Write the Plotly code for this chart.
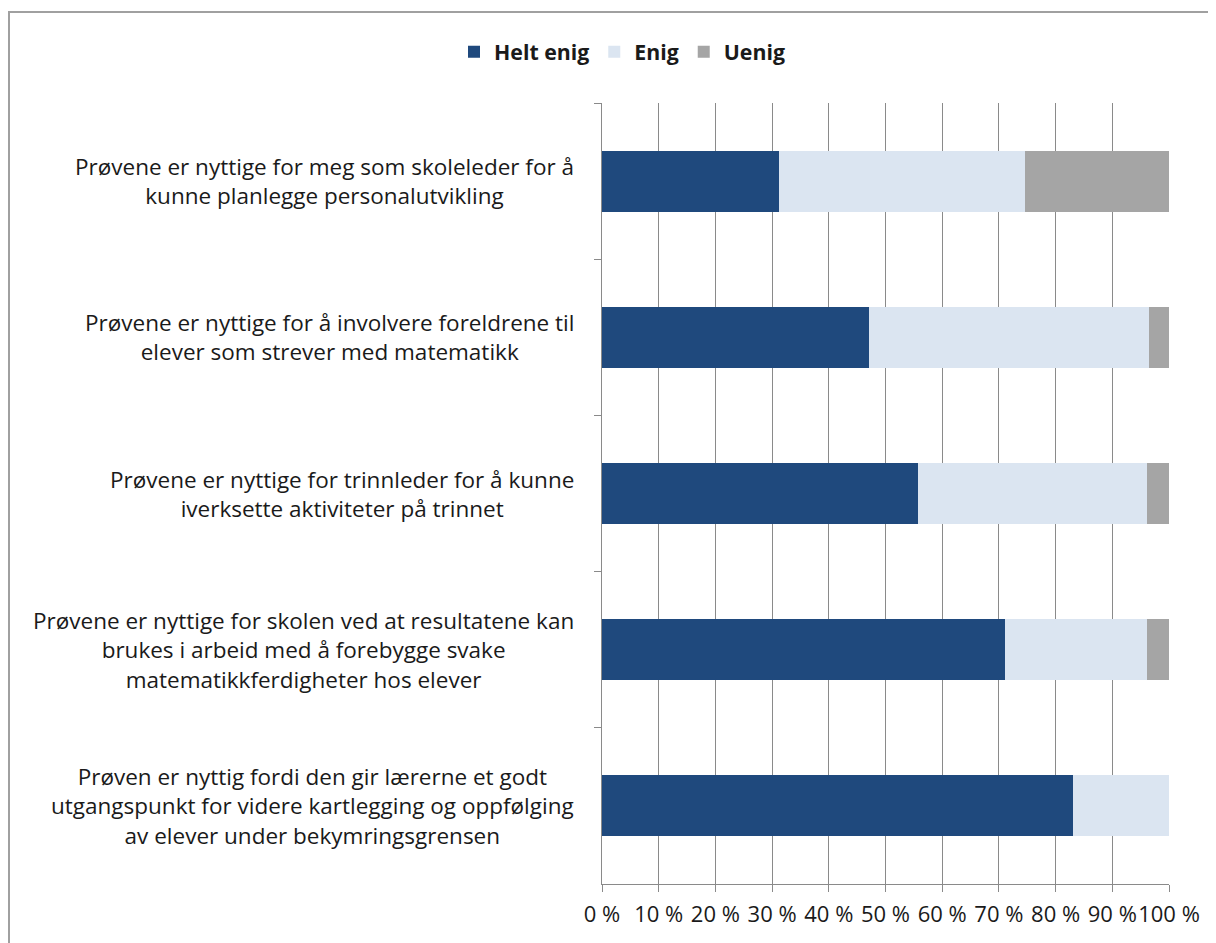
import plotly.graph_objects as go

categories = [
    "Prøvene er nyttige for meg som skoleleder for å<br>kunne planlegge personalutvikling",
    "Prøvene er nyttige for å involvere foreldrene til<br>elever som strever med matematikk",
    "Prøvene er nyttige for trinnleder for å kunne<br>iverksette aktiviteter på trinnet",
    "Prøvene er nyttige for skolen ved at resultatene kan<br>brukes i arbeid med å forebygge svake<br>matematikkferdigheter hos elever",
    "Prøven er nyttig fordi den gir lærerne et godt<br>utgangspunkt for videre kartlegging og oppfølging<br>av elever under bekymringsgrensen",
]
cat_ids = ["q1", "q2", "q3", "q4", "q5"]
helt_enig = [31.2, 47.1, 55.7, 71.1, 83.1]
enig = [43.4, 49.3, 40.5, 25.1, 16.9]
uenig = [25.4, 3.6, 3.8, 3.8, 0.0]
x_ticks = [0, 10, 20, 30, 40, 50, 60, 70, 80, 90, 100]
x_tick_labels = [f"{v} %" for v in x_ticks]

FONT = "Open Sans"
FS_LAB = 22.5
FS_TICK = 22
FS_LEG = 21.3
OFF = 8  # page body margin
SW, SH = 1216, 943
L, R, T, B = 602, 1169, 103, 884  # plot area in screen pixels

fig = go.Figure()
series = [("Helt enig", helt_enig, "#1F497D"),
          ("Enig", enig, "#DBE5F1"),
          ("Uenig", uenig, "#A5A5A5")]
for name, vals, col in series:
    fig.add_trace(go.Bar(
        y=cat_ids, x=vals, name=name, orientation="h",
        marker=dict(color=col, line=dict(width=0)),
    ))

annotations = []
for cid, text in zip(cat_ids, categories):
    annotations.append(dict(
        x=0, xref="paper", y=cid, yref="y", text=text, showarrow=False,
        xanchor="right", yanchor="middle", align="center", xshift=-26,
        font=dict(family=FONT, size=FS_LAB, color="#1a1a1a"),
    ))

def px_x(p):
    return (p - L) / (R - L)

def px_y(p):
    return (B - p) / (B - T)

fig.update_layout(
    width=SW - OFF, height=SH - OFF,
    margin=dict(l=L - OFF, r=SW - R, t=T - OFF, b=SH - B, pad=0),
    paper_bgcolor="white", plot_bgcolor="white",
    barmode="stack", bargap=0.61,
    font=dict(family=FONT, size=FS_LAB, color="#1a1a1a"),
    legend=dict(orientation="h", x=px_x(622), xanchor="center",
                y=px_y(52), yanchor="middle",
                font=dict(family=FONT, size=FS_LEG, weight="bold", color="#1a1a1a"),
                traceorder="normal"),
    xaxis=dict(range=[0, 100], tickvals=x_ticks, ticktext=x_tick_labels,
               tickangle=0,
               showgrid=True, gridcolor="#8a8a8a", gridwidth=1,
               showline=True, linecolor="#8a8a8a", linewidth=1,
               ticks="outside", ticklen=7, tickcolor="#8a8a8a",
               ticklabelstandoff=4,
               zeroline=False, fixedrange=True,
               tickfont=dict(family=FONT, size=FS_TICK, color="#1a1a1a")),
    yaxis=dict(categoryorder="array", categoryarray=cat_ids,
               autorange="reversed", showticklabels=False,
               showline=True, linecolor="#8a8a8a", linewidth=1,
               ticks="outside", ticklen=7, tickcolor="#8a8a8a",
               tickson="boundaries", showgrid=False, zeroline=False),
    annotations=annotations,
    shapes=[dict(type="rect", xref="paper", yref="paper",
                 x0=px_x(9), x1=px_x(1240), y0=px_y(980), y1=px_y(12),
                 line=dict(color="#a0a0a0", width=2), layer="below")],
)

fig.write_html("out.html")
